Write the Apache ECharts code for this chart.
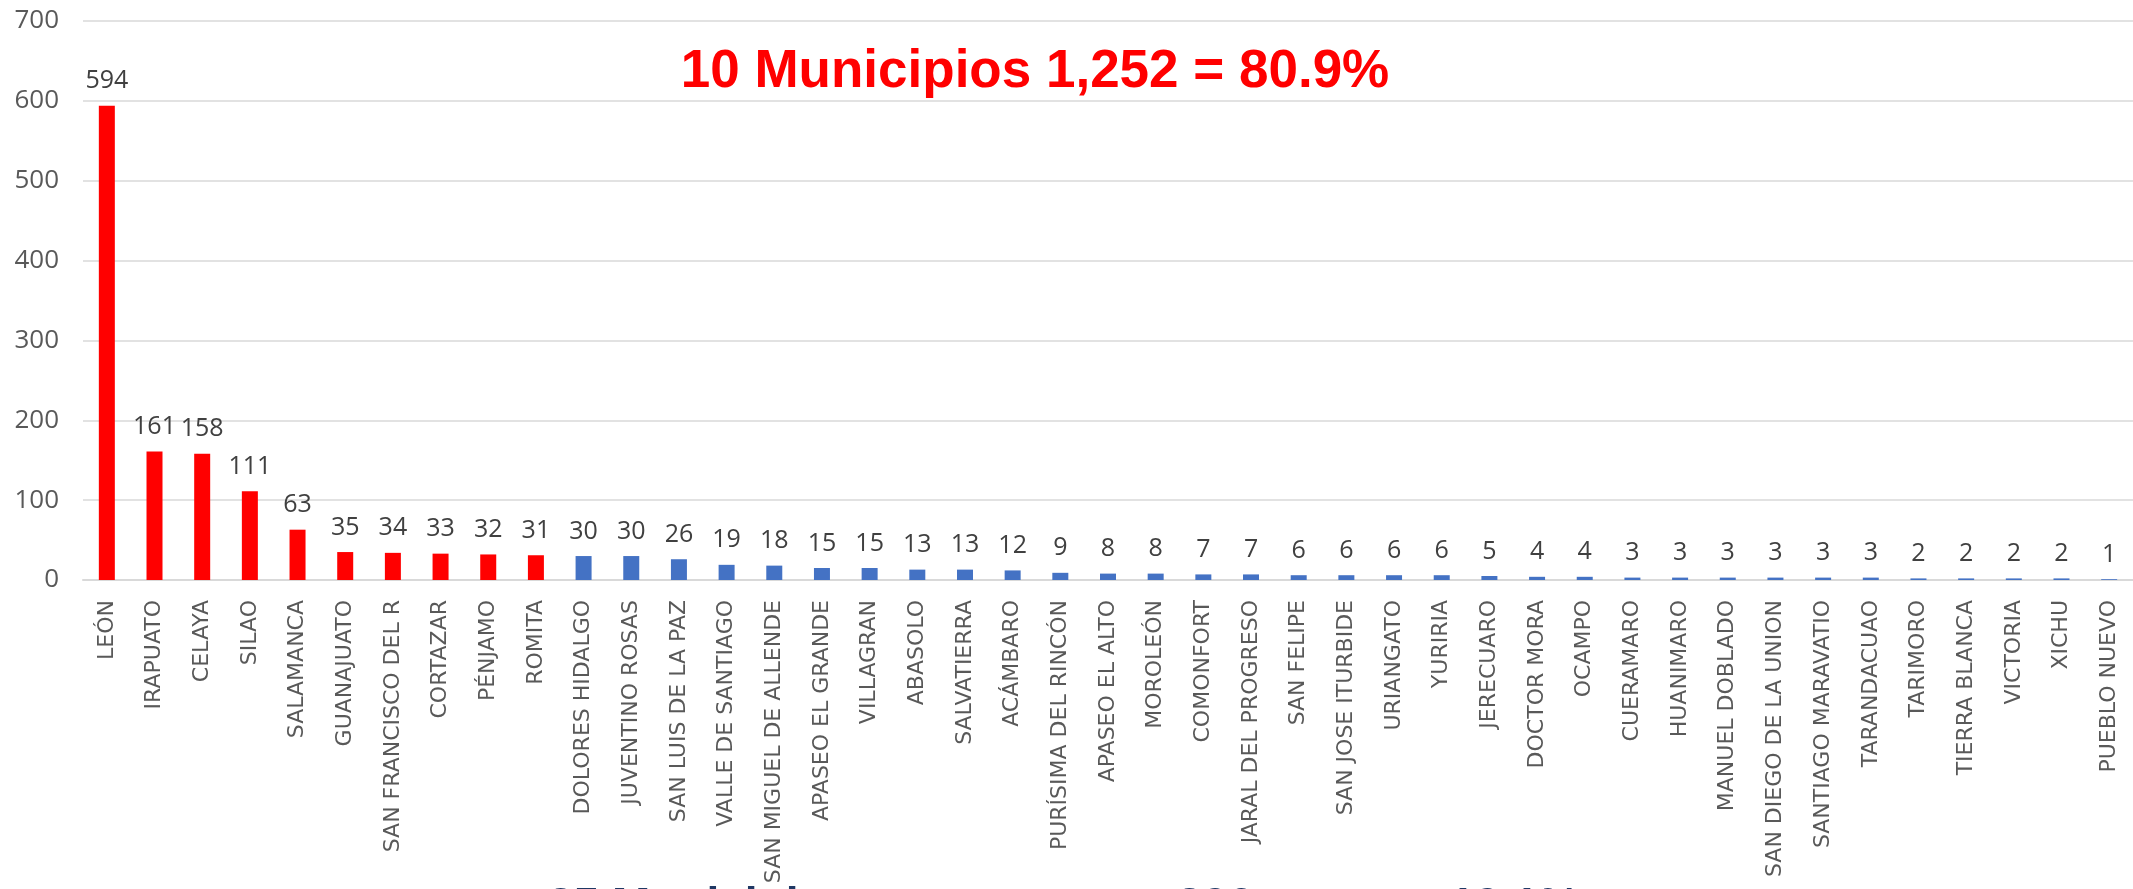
<!DOCTYPE html>
<html>
<head>
<meta charset="utf-8">
<script src="https://cdn.jsdelivr.net/npm/echarts@6/dist/echarts.min.js"></script>
<style>html,body{margin:0;padding:0;background:#fff}#c{width:2133px;height:889px}</style>
</head>
<body>
<div id="c"></div>
<script>
const categories = ["LEÓN","IRAPUATO","CELAYA","SILAO","SALAMANCA","GUANAJUATO","SAN FRANCISCO DEL R","CORTAZAR","PÉNJAMO","ROMITA","DOLORES HIDALGO","JUVENTINO ROSAS","SAN LUIS DE LA PAZ","VALLE DE SANTIAGO","SAN MIGUEL DE ALLENDE","APASEO EL GRANDE","VILLAGRAN","ABASOLO","SALVATIERRA","ACÁMBARO","PURÍSIMA DEL RINCÓN","APASEO EL ALTO","MOROLEÓN","COMONFORT","JARAL DEL PROGRESO","SAN FELIPE","SAN JOSE ITURBIDE","URIANGATO","YURIRIA","JERECUARO","DOCTOR MORA","OCAMPO","CUERAMARO","HUANIMARO","MANUEL DOBLADO","SAN DIEGO DE LA UNION","SANTIAGO MARAVATIO","TARANDACUAO","TARIMORO","TIERRA BLANCA","VICTORIA","XICHU","PUEBLO NUEVO"];
const values = [594,161,158,111,63,35,34,33,32,31,30,30,26,19,18,15,15,13,13,12,9,8,8,7,7,6,6,6,6,5,4,4,3,3,3,3,3,3,2,2,2,2,1];
const topCount = 10;
const yTicks = [0,100,200,300,400,500,600,700];
const titleText = "10 Municipios 1,252 = 80.9%";
const bottomText = "35 Municipios restantes con 296 casos = 19.1%";

const chart = echarts.init(document.getElementById('c'), null, {renderer:'canvas'});
chart.setOption({
  animation:false,
  grid:{left:83, right:-3, top:21, bottom:309, containLabel:false},
  xAxis:{
    type:'category', data:categories,
    axisTick:{show:false},
    axisLine:{lineStyle:{color:'#D9D9D9', width:2}},
    axisLabel:{interval:0, rotate:90, margin:20, color:'#595959',
      fontFamily:'DejaVu Sans', fontSize:22}
  },
  yAxis:{
    type:'value', min:yTicks[0], max:yTicks[yTicks.length-1], interval:100,
    axisLine:{show:false}, axisTick:{show:false},
    splitLine:{lineStyle:{color:'#D9D9D9', width:1.5}},
    axisLabel:{margin:24, color:'#595959', fontFamily:'Open Sans', fontSize:26}
  },
  series:[{
    type:'bar', barWidth:16,
    data: values.map((v,i)=>({value:v, itemStyle:{color: i<topCount ? '#FF0000' : '#4472C4'}})),
    label:{show:true, position:'top', distance:12, color:'#404040', fontFamily:'Open Sans', fontSize:25}
  }],
  graphic:[
    {type:'text', x:1035, y:46, z:10,
     style:{text:titleText, textAlign:'center', fill:'#FF0000', font:'bold 53px "Liberation Sans", Arial, sans-serif'}},
    {type:'text', x:548, y:884, z:10,
     style:{text:bottomText, fill:'#1F3864', font:'bold 46px "Liberation Sans", Arial, sans-serif'}}
  ]
});
</script>
</body>
</html>
